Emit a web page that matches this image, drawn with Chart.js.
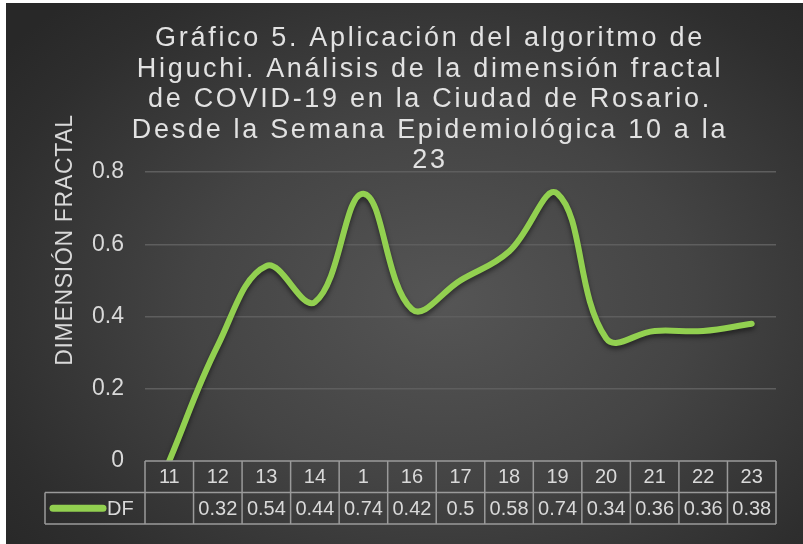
<!DOCTYPE html>
<html>
<head>
<meta charset="utf-8">
<script src="https://cdn.jsdelivr.net/npm/chart.js@4.4.1/dist/chart.umd.min.js"></script>
<style>
    html, body { margin: 0; padding: 0; background: #ffffff; }
    #wrap {
        position: absolute;
        left: 6px;
        top: 3px;
        width: 797px;
        height: 541px;
        background: radial-gradient(ellipse 70% 75% at 55% 55%, #555555 0%, #444444 45%, #2e2e2e 85%, #282828 100%);
    }
</style>
</head>
<body>
<div id="wrap"><canvas id="myChart"></canvas></div>
<script>
const weeks = ["11", "12", "13", "14", "1", "16", "17", "18", "19", "20", "21", "22", "23"];
// first week has no value in the table; Excel plots the empty cell as zero
const dfValues = [null, 0.32, 0.54, 0.44, 0.74, 0.42, 0.5, 0.58, 0.74, 0.34, 0.36, 0.36, 0.38];
const yTicks = [0, 0.2, 0.4, 0.6, 0.8];
const seriesName = "DF";
const axisTitle = "DIMENSIÓN FRACTAL";
const titleLines = [
    "Gráfico 5. Aplicación del algoritmo de",
    "Higuchi. Análisis de la dimensión fractal",
    "de COVID-19 en la Ciudad de Rosario.",
    "Desde la Semana Epidemiológica 10 a la",
    "23",
];

const green = "#92d050";
const textColor = "#d9d9d9";
const gridColor = "#5e5e5e";
const tableLine = "#9a9a9a";
const fontFamily = "'Liberation Sans', Arial, sans-serif";

const titleAndAxis = {
    id: "titleAndAxis",
    afterDraw(chart) {
        const ctx = chart.ctx;
        ctx.save();
        ctx.fillStyle = "#e2e2e2";
        ctx.textAlign = "center";
        ctx.textBaseline = "alphabetic";
        ctx.font = "27px " + fontFamily;
        ctx.letterSpacing = "2.7px";
        titleLines.forEach((line, i) => {
            ctx.fillText(line, 424, 43 + i * 30.5);
        });
        ctx.fillStyle = textColor;
        ctx.letterSpacing = "0.7px";
        ctx.font = "23px " + fontFamily;
        ctx.translate(60, 237);
        ctx.rotate(-Math.PI / 2);
        ctx.textBaseline = "middle";
        ctx.fillText(axisTitle, 0, 0);
        ctx.restore();
    },
};

const lineShadow = {
    id: "lineShadow",
    beforeDatasetsDraw(chart) {
        const ctx = chart.ctx;
        ctx.save();
        ctx.shadowColor = "rgba(0, 0, 0, 0.5)";
        ctx.shadowBlur = 5;
        ctx.shadowOffsetY = 3;
    },
    afterDatasetsDraw(chart) {
        chart.ctx.restore();
    },
};

const dataTable = {
    id: "dataTable",
    afterDraw(chart) {
        const ctx = chart.ctx;
        const area = chart.chartArea;
        const xs = chart.scales.x;
        const colW = (area.right - area.left) / weeks.length;
        const rowH = 31.5;
        const top = area.bottom;
        const legendLeft = 39;

        ctx.save();
        ctx.strokeStyle = tableLine;
        ctx.lineWidth = 1.5;
        ctx.beginPath();
        ctx.moveTo(area.left, top);
        ctx.lineTo(area.right, top);
        ctx.moveTo(legendLeft, top + rowH);
        ctx.lineTo(area.right, top + rowH);
        ctx.moveTo(legendLeft, top + 2 * rowH);
        ctx.lineTo(area.right, top + 2 * rowH);
        ctx.moveTo(legendLeft, top + rowH);
        ctx.lineTo(legendLeft, top + 2 * rowH);
        for (let i = 0; i <= weeks.length; i++) {
            const x = area.left + i * colW;
            ctx.moveTo(x, top);
            ctx.lineTo(x, top + 2 * rowH);
        }
        ctx.stroke();

        ctx.fillStyle = textColor;
        ctx.textAlign = "center";
        ctx.textBaseline = "middle";
        ctx.font = "20px " + fontFamily;
        weeks.forEach((w, i) => {
            const x = xs.getPixelForValue(i);
            ctx.fillText(w, x, top + rowH / 2 + 1);
            const v = dfValues[i];
            ctx.fillText(v === null ? "" : String(v), x, top + rowH * 1.5 + 1);
        });

        // legend key
        const ky = top + rowH * 1.5;
        ctx.strokeStyle = green;
        ctx.lineWidth = 7;
        ctx.lineCap = "round";
        ctx.beginPath();
        ctx.moveTo(legendLeft + 8, ky);
        ctx.lineTo(legendLeft + 58, ky);
        ctx.stroke();
        ctx.textAlign = "left";
        ctx.fillText(seriesName, legendLeft + 62, ky + 1);
        ctx.restore();
    },
};

const config = {
    type: "line",
    data: {
        labels: weeks,
        datasets: [
            {
                label: seriesName,
                data: dfValues.map((v) => (v === null ? 0 : v)),
                borderColor: green,
                borderWidth: 6,
                pointRadius: 0,
                tension: 0.4,
                fill: false,
                borderCapStyle: "round",
            },
        ],
    },
    options: {
        responsive: true,
        maintainAspectRatio: false,
        animation: false,
        layout: {
            padding: { top: 169, bottom: 83, left: 0, right: 27 },
        },
        plugins: {
            legend: { display: false },
            title: { display: false },
            tooltip: { enabled: false },
        },
        scales: {
            x: {
                display: false,
                offset: true,
            },
            y: {
                min: 0,
                max: 0.8,
                afterFit(scale) {
                    scale.width = 139;
                },
                afterBuildTicks(scale) {
                    scale.ticks = yTicks.map((v) => ({ value: v }));
                },
                ticks: {
                    color: textColor,
                    padding: 21,
                    font: { family: fontFamily, size: 23 },
                    callback: (v) => String(v),
                },
                grid: {
                    color: (c) => (c.tick && c.tick.value === 0 ? "rgba(0,0,0,0)" : gridColor),
                    lineWidth: 1.5,
                    drawTicks: false,
                },
                border: { display: false },
            },
        },
    },
    plugins: [lineShadow, dataTable, titleAndAxis],
};

var myChart = new Chart(document.getElementById("myChart"), config);
</script>
</body>
</html>
